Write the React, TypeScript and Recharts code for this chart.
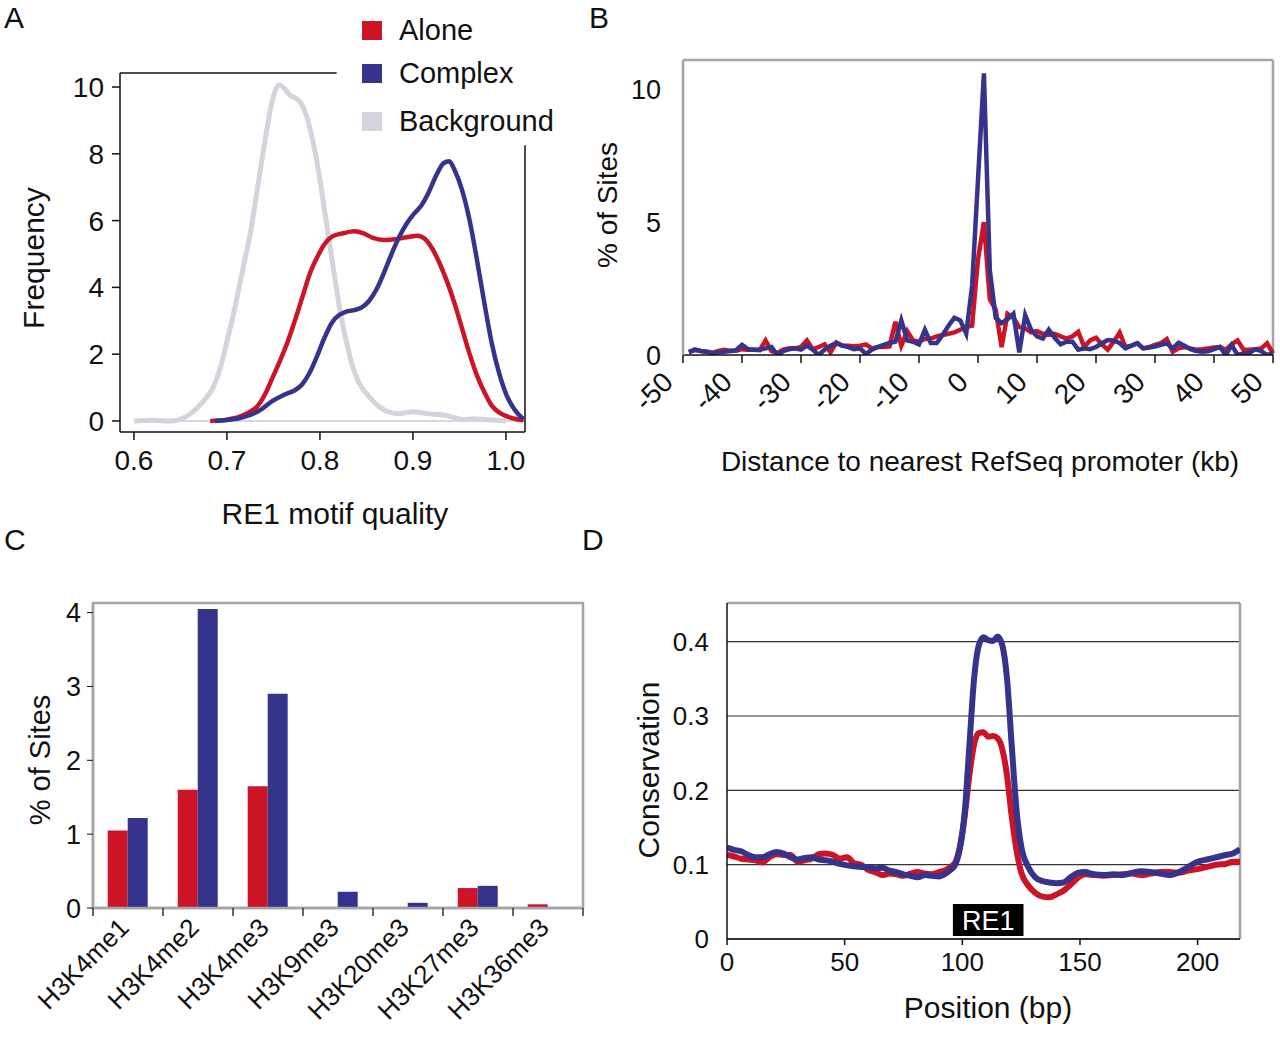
import React from "react";
import {
  Bar,
  BarChart,
  CartesianGrid,
  Label,
  Legend,
  Line,
  LineChart,
  ReferenceArea,
  ReferenceLine,
  XAxis,
  YAxis,
} from "recharts";

const FONT = '"Liberation Sans", Arial, Helvetica, sans-serif';
const NARROW = '"Liberation Sans Narrow", "Liberation Sans", Arial, sans-serif';
const INK = "#111";
const RED = "#cb1426";
const BLUE = "#35338b";
const LIGHT = "#d3d4dc";
const FRAME = "#a3a5a8";

// ---- A: RE1 motif quality densities
const seriesNames = ["Alone", "Complex", "Background"];
const qualityTicks = [0.6, 0.7, 0.8, 0.9, 1.0];
const frequencyTicks = [0, 2, 4, 6, 8, 10];

const bgQuality = [0.6, 0.62, 0.64, 0.65, 0.66, 0.67, 0.677, 0.685, 0.693, 0.701, 0.707, 0.713, 0.719, 0.725, 0.733, 0.741, 0.748, 0.756, 0.762, 0.768, 0.775, 0.781, 0.787, 0.793, 0.799, 0.805, 0.811, 0.817, 0.823, 0.829, 0.835, 0.841, 0.849, 0.857, 0.865, 0.873, 0.885, 0.9, 0.915, 0.933, 0.945, 0.955, 0.965, 0.98, 1.0];
const bgFreq = [0, 0.02, 0.0, 0.05, 0.2, 0.45, 0.67, 1.0, 1.6, 2.5, 3.2, 4.0, 4.8, 5.6, 7.0, 8.4, 9.5, 10.07, 9.95, 9.75, 9.65, 9.45, 9.0, 8.3, 7.4, 6.3, 5.2, 4.1, 3.1, 2.3, 1.65, 1.2, 0.85, 0.6, 0.4, 0.28, 0.22, 0.28, 0.22, 0.18, 0.1, 0.04, 0.07, 0.04, 0.0];

const aloneQuality = [0.682, 0.7, 0.713, 0.725, 0.733, 0.741, 0.749, 0.757, 0.765, 0.773, 0.781, 0.789, 0.797, 0.805, 0.813, 0.825, 0.837, 0.847, 0.857, 0.869, 0.881, 0.893, 0.905, 0.913, 0.921, 0.929, 0.937, 0.945, 0.953, 0.961, 0.969, 0.977, 0.985, 0.993, 1.005, 1.019];
const aloneFreq = [0, 0.04, 0.12, 0.28, 0.45, 0.8, 1.3, 1.8, 2.35, 3.0, 3.7, 4.4, 4.9, 5.3, 5.52, 5.62, 5.68, 5.62, 5.48, 5.42, 5.44, 5.5, 5.55, 5.45, 5.15, 4.7, 4.15, 3.5, 2.75, 2.0, 1.35, 0.85, 0.45, 0.25, 0.1, 0.02];

const complexQuality = [0.687, 0.7, 0.713, 0.725, 0.737, 0.749, 0.761, 0.773, 0.781, 0.789, 0.797, 0.805, 0.813, 0.821, 0.829, 0.837, 0.845, 0.853, 0.861, 0.869, 0.877, 0.885, 0.893, 0.901, 0.909, 0.917, 0.925, 0.933, 0.939, 0.945, 0.953, 0.961, 0.969, 0.977, 0.985, 0.993, 1.001, 1.009, 1.019];
const complexFreq = [0, 0.03, 0.08, 0.18, 0.35, 0.6, 0.78, 0.92, 1.1, 1.45, 1.95, 2.5, 2.95, 3.18, 3.28, 3.32, 3.4, 3.6, 3.95, 4.45, 5.0, 5.5, 5.9, 6.2, 6.45, 6.85, 7.35, 7.72, 7.78, 7.5, 6.9, 6.0, 4.8, 3.5, 2.3, 1.4, 0.75, 0.35, 0.05];

// ---- B: distance to nearest RefSeq promoter (kb)
const distanceTicks = [-50, -40, -30, -20, -10, 0, 10, 20, 30, 40, 50];
const distanceKb = [
  -49, -48, -47, -46, -45, -44, -43, -42, -41, -40,
  -39, -38, -37, -36, -35, -34, -33, -32, -31, -30,
  -29, -28, -27, -26, -25, -24, -23, -22, -21, -20,
  -19, -18, -17, -16, -15, -14, -13, -12, -11, -10,
  -9, -8, -7, -6, -5, -4, -3, -2, -1, 0,
  1, 2, 3, 4, 5, 6, 7, 8, 9, 10,
  11, 12, 13, 14, 15, 16, 17, 18, 19, 20,
  21, 22, 23, 24, 25, 26, 27, 28, 29, 30,
  31, 32, 33, 34, 35, 36, 37, 38, 39, 40,
  41, 42, 43, 44, 45, 46, 47, 48, 49, 50,
];
const aloneByDistance = [
  0.1, 0.2, 0.15, 0.12, 0.08, 0.15, 0.2, 0.15, 0.16, 0.22,
  0.2, 0.2, 0.18, 0.55, 0.15, 0.08, 0.2, 0.25, 0.25, 0.3,
  0.55, 0.22, 0.3, 0.4, 0.1, 0.47, 0.35, 0.35, 0.33, 0.35,
  0.4, 0.25, 0.3, 0.3, 0.32, 1.25, 0.35, 0.9, 0.55, 0.5,
  0.6, 0.62, 0.7, 0.75, 0.8, 0.85, 0.95, 1.05, 1.1, 3.6,
  5.0, 2.1, 1.7, 0.3, 1.55, 1.4, 1.05, 1.0, 0.85, 0.9,
  0.8, 0.75, 0.8, 0.7, 0.62, 0.7, 0.87, 0.3, 0.55, 0.65,
  0.4, 0.2, 0.5, 0.84, 0.3, 0.35, 0.44, 0.25, 0.3, 0.38,
  0.45, 0.6, 0.12, 0.25, 0.3, 0.25, 0.2, 0.22, 0.25, 0.28,
  0.3, 0.2, 0.4, 0.55, 0.2, 0.2, 0.22, 0.25, 0.44, 0.06,
];
const complexByDistance = [
  0.12, 0.2, 0.15, 0.12, 0.08, 0.1, 0.12, 0.15, 0.18, 0.38,
  0.22, 0.2, 0.2, 0.25, 0.3, 0.0, 0.15, 0.22, 0.25, 0.2,
  0.35, 0.2, 0.0, 0.2, 0.35, 0.45, 0.35, 0.3, 0.22, 0.25,
  0.04, 0.2, 0.3, 0.38, 0.45, 0.5, 1.3, 0.55, 0.5, 0.4,
  0.95, 0.45, 0.45, 0.75, 1.1, 1.4, 1.3, 0.8, 2.6, 6.6,
  10.6, 3.2, 1.4, 1.2, 1.35, 1.55, 0.1, 1.5, 0.95, 0.7,
  0.62, 0.95, 0.65, 0.4, 0.5, 0.5, 0.2, 0.25, 0.22, 0.3,
  0.44, 0.56, 0.55, 0.45, 0.25, 0.35, 0.45, 0.25, 0.28, 0.32,
  0.38, 0.44, 0.25, 0.46, 0.35, 0.22, 0.15, 0.12, 0.14, 0.22,
  0.3, 0.0, 0.37, 0.0, 0.06, 0.08, 0.22, 0.15, 0.0, 0.06,
];

// ---- C: histone marks
const histoneMarks = ["H3K4me1", "H3K4me2", "H3K4me3", "H3K9me3", "H3K20me3", "H3K27me3", "H3K36me3"];
const aloneMarkPct = [1.05, 1.6, 1.65, 0, 0, 0.27, 0.05];
const complexMarkPct = [1.22, 4.05, 2.9, 0.22, 0.07, 0.3, 0];

// ---- D: conservation around the RE1
const positionTicks = [0, 50, 100, 150, 200];
const conservationTicks = [0, 0.1, 0.2, 0.3, 0.4];
const positionBp = [0, 3, 6, 9, 12, 15, 18, 21, 24, 27, 30, 33, 36, 39, 42, 45, 48, 51, 54, 57, 60, 63, 66, 69, 72, 75, 78, 81, 84, 87, 90, 93, 95, 97, 99, 101, 103, 105, 107, 109, 111, 113, 115, 117, 119, 121, 123, 125, 128, 131, 134, 137, 140, 143, 146, 149, 152, 156, 160, 164, 168, 172, 176, 180, 184, 188, 192, 196, 200, 204, 208, 212, 215, 218];
const aloneConservation = [0.113, 0.111, 0.108, 0.107, 0.106, 0.103, 0.11, 0.114, 0.113, 0.113, 0.104, 0.106, 0.108, 0.114, 0.115, 0.113, 0.108, 0.11, 0.102, 0.1, 0.093, 0.09, 0.086, 0.088, 0.087, 0.085, 0.088, 0.09, 0.088, 0.087, 0.09, 0.093, 0.097, 0.103, 0.125, 0.165, 0.22, 0.262, 0.277, 0.278, 0.272, 0.273, 0.27, 0.255, 0.22, 0.165, 0.12, 0.09, 0.072, 0.062, 0.057, 0.056, 0.06, 0.065, 0.073, 0.082, 0.087, 0.086, 0.085, 0.086, 0.087, 0.088, 0.086, 0.088, 0.09, 0.09, 0.089, 0.092, 0.094, 0.097, 0.1, 0.101, 0.104, 0.104];
const complexConservation = [0.123, 0.12, 0.118, 0.113, 0.11, 0.11, 0.114, 0.117, 0.115, 0.11, 0.107, 0.109, 0.11, 0.107, 0.106, 0.104, 0.101, 0.099, 0.098, 0.097, 0.097, 0.095, 0.096, 0.092, 0.09, 0.087, 0.085, 0.083, 0.086, 0.085, 0.084, 0.088, 0.093, 0.1, 0.122, 0.17, 0.26, 0.35, 0.395, 0.406, 0.402, 0.401, 0.407, 0.395, 0.35, 0.26, 0.175, 0.125, 0.097, 0.083, 0.078, 0.076, 0.075, 0.076, 0.083, 0.089, 0.09, 0.087, 0.086, 0.087, 0.086, 0.089, 0.091, 0.09, 0.088, 0.086, 0.09, 0.097, 0.104, 0.107, 0.11, 0.113, 0.115, 0.121];

const pairs = (xs: number[], ys: number[]) => xs.map((x, i) => ({ x, y: ys[i] }));

const tickFont = (size: number, family = FONT) => ({ fontSize: size, fill: INK, fontFamily: family });

function Title({ x, y, text, size = 30, rotate = false }: { x: number; y: number; text: string; size?: number; rotate?: boolean }) {
  return (
    <text
      x={x}
      y={y}
      transform={rotate ? `rotate(-90 ${x} ${y})` : undefined}
      textAnchor="middle"
      dominantBaseline="central"
      fontFamily={FONT}
      fontSize={size}
      fill={INK}
    >
      {text}
    </text>
  );
}

function SlantTick(props: any) {
  const { x, y, payload, dx = 0, dy = 0, size = 26 } = props;
  return (
    <g transform={`translate(${x + dx},${y + dy}) rotate(-45)`}>
      <text textAnchor="end" dominantBaseline="central" fontFamily={FONT} fontSize={size} fill={INK}>
        {payload.value}
      </text>
    </g>
  );
}

// category label plus the tick marks on the band edges, like the original plot
function MarkTick(props: any) {
  const { x, y, payload, width, visibleTicksCount, index } = props;
  const band = typeof width === "number" && visibleTicksCount ? width / visibleTicksCount : 70;
  const left = x - band / 2;
  const right = x + band / 2;
  return (
    <g>
      <line x1={left} x2={left} y1={y} y2={y + 8} stroke="#333" strokeWidth={1.5} />
      {index === visibleTicksCount - 1 && <line x1={right} x2={right} y1={y} y2={y + 8} stroke="#333" strokeWidth={1.5} />}
      <g transform={`translate(${x - 4},${y + 15}) rotate(-45)`}>
        <text textAnchor="end" dominantBaseline="central" fontFamily={FONT} fontSize={26} fill={INK}>
          {payload.value}
        </text>
      </g>
    </g>
  );
}

function PanelLetter({ x, y, letter }: { x: number; y: number; letter: string }) {
  return (
    <div style={{ position: "absolute", left: x, top: y, fontFamily: FONT, fontSize: 30, lineHeight: "30px", color: INK }}>
      {letter}
    </div>
  );
}

const legendColors = [RED, BLUE, LIGHT];
const legendRowTops = [0, 43, 91];

function MotifLegend() {
  return (
    <div style={{ position: "relative", width: 220, height: 130, fontFamily: FONT, fontSize: 29, color: INK }}>
      {seriesNames.map((name, i) => (
        <div key={name} style={{ position: "absolute", left: 0, top: legendRowTops[i], height: 32, display: "flex", alignItems: "center" }}>
          <span style={{ display: "inline-block", width: 20, height: 19, background: legendColors[i], marginRight: 17 }} />
          <span>{name}</span>
        </div>
      ))}
    </div>
  );
}

const A_X: [number, number] = [0.585, 1.0205];
const A_Y: [number, number] = [-0.33, 10.42];

function MotifQualityPanel() {
  return (
    <LineChart width={580} height={540} margin={{ top: 73, right: 55, bottom: 0, left: 0 }}>
      <XAxis
        type="number"
        dataKey="x"
        domain={A_X}
        allowDataOverflow
        ticks={qualityTicks}
        interval={0}
        tickFormatter={(v: number) => v.toFixed(1)}
        height={108}
        stroke={INK}
        strokeWidth={1.5}
        tickSize={8}
        tickMargin={10}
        tick={tickFont(28)}
        label={() => <Title x={335} y={513} text="RE1 motif quality" />}
      />
      <YAxis
        type="number"
        domain={A_Y}
        allowDataOverflow
        ticks={frequencyTicks}
        interval={0}
        width={120}
        stroke={INK}
        strokeWidth={1.5}
        tickSize={8}
        tickMargin={8}
        tick={tickFont(28)}
        label={() => <Title x={33} y={258} text="Frequency" rotate />}
      />
      <ReferenceLine segment={[{ x: 0.6, y: 0 }, { x: A_X[1], y: 0 }]} stroke="#c6c8d6" strokeWidth={1.5} ifOverflow="visible" />
      <ReferenceLine segment={[{ x: A_X[0], y: A_Y[1] }, { x: 0.818, y: A_Y[1] }]} stroke={INK} strokeWidth={1.5} ifOverflow="visible" />
      <ReferenceLine segment={[{ x: A_X[1], y: 8.26 }, { x: A_X[1], y: A_Y[0] }]} stroke={INK} strokeWidth={1.5} ifOverflow="visible" />
      <Line data={pairs(bgQuality, bgFreq)} dataKey="y" name="Background" type="monotone" stroke={LIGHT} strokeWidth={5} dot={false} isAnimationActive={false} />
      <Line data={pairs(aloneQuality, aloneFreq)} dataKey="y" name="Alone" type="monotone" stroke={RED} strokeWidth={4.5} dot={false} isAnimationActive={false} />
      <Line data={pairs(complexQuality, complexFreq)} dataKey="y" name="Complex" type="monotone" stroke={BLUE} strokeWidth={4.5} dot={false} isAnimationActive={false} />
      <Legend
        layout="vertical"
        align="center"
        verticalAlign="middle"
        wrapperStyle={{ left: 362, top: 14, width: 220, height: 130 }}
        content={() => <MotifLegend />}
      />
    </LineChart>
  );
}

function PromoterDistancePanel() {
  const rows = distanceKb.map((kb, i) => ({ kb, alone: aloneByDistance[i], complex: complexByDistance[i] }));
  return (
    <LineChart width={700} height={500} data={rows} margin={{ top: 60, right: 7, bottom: 0, left: 0 }}>
      <XAxis
        type="number"
        dataKey="kb"
        domain={[-50, 50]}
        ticks={distanceTicks}
        interval={0}
        height={145}
        stroke={INK}
        strokeWidth={1.5}
        tickSize={8}
        tick={<SlantTick dx={-15} dy={12} size={28} />}
        label={() => <Title x={400} y={461} text="Distance to nearest RefSeq promoter (kb)" size={28} />}
      />
      <YAxis
        type="number"
        domain={[0, 11.1]}
        allowDataOverflow
        ticks={[0, 5, 10]}
        interval={0}
        width={103}
        axisLine={{ stroke: FRAME, strokeWidth: 2.5 }}
        tickLine={false}
        tickSize={0}
        tickMargin={22}
        tick={tickFont(27)}
        label={() => <Title x={27} y={205} text="% of Sites" size={28} rotate />}
      />
      <ReferenceLine y={11.1} stroke={FRAME} strokeWidth={2.5} />
      <ReferenceLine x={50} stroke={FRAME} strokeWidth={2.5} />
      <Line dataKey="alone" type="linear" stroke={RED} strokeWidth={4.5} dot={false} isAnimationActive={false} />
      <Line dataKey="complex" type="linear" stroke={BLUE} strokeWidth={4.5} dot={false} isAnimationActive={false} />
    </LineChart>
  );
}

function HistoneMarkPanel() {
  const rows = histoneMarks.map((mark, i) => ({ mark, alone: aloneMarkPct[i], complex: complexMarkPct[i] }));
  return (
    <BarChart width={600} height={509} data={rows} margin={{ top: 63, right: 17, bottom: 0, left: 0 }} barGap={0} barCategoryGap="21%">
      <XAxis
        dataKey="mark"
        interval={0}
        height={141}
        axisLine={{ stroke: FRAME, strokeWidth: 2.5 }}
        tickLine={false}
        tickSize={0}
        tickMargin={0}
        tick={<MarkTick />}
      />
      <YAxis
        type="number"
        domain={[0, 4.13]}
        allowDataOverflow
        ticks={[0, 1, 2, 3, 4]}
        interval={0}
        width={93}
        axisLine={{ stroke: FRAME, strokeWidth: 2.5 }}
        tickLine={{ stroke: INK }}
        tickSize={6}
        tickMargin={6}
        tick={tickFont(27)}
        label={() => <Title x={40} y={220} text="% of Sites" size={29} rotate />}
      />
      <ReferenceArea y1={0} y2={4.13} fill="none" fillOpacity={0} stroke={FRAME} strokeWidth={2.5} ifOverflow="visible" />
      <Bar dataKey="alone" fill={RED} isAnimationActive={false} />
      <Bar dataKey="complex" fill={BLUE} isAnimationActive={false} />
    </BarChart>
  );
}

function ConservationPanel() {
  return (
    <LineChart width={680} height={509} margin={{ top: 63, right: 40, bottom: 0, left: 0 }}>
      <CartesianGrid vertical={false} stroke="#333" strokeWidth={1.2} />
      <XAxis
        type="number"
        dataKey="x"
        domain={[0, 218]}
        allowDataOverflow
        ticks={positionTicks}
        interval={0}
        height={110}
        stroke={INK}
        strokeWidth={1.5}
        tickSize={6}
        tickMargin={8}
        tick={tickFont(26, NARROW)}
        label={() => <Title x={388} y={467} text="Position (bp)" />}
      />
      <YAxis
        type="number"
        domain={[0, 0.452]}
        allowDataOverflow
        ticks={conservationTicks}
        interval={0}
        tickFormatter={(v: number) => (v === 0 ? "0" : v.toFixed(1))}
        width={127}
        stroke={INK}
        strokeWidth={1.5}
        tickLine={false}
        tickSize={0}
        tickMargin={18}
        tick={tickFont(26, NARROW)}
        label={() => <Title x={48} y={230} text="Conservation" rotate />}
      />
      <ReferenceLine y={0.452} stroke={FRAME} strokeWidth={2.5} />
      <ReferenceLine x={218} stroke={FRAME} strokeWidth={2.5} />
      <ReferenceArea x1={96} x2={126} y1={0.004} y2={0.047} fill="#000" fillOpacity={1} stroke="none" ifOverflow="visible">
        <Label value="RE1" position="center" fill="#fff" fontSize={27} fontFamily={NARROW} />
      </ReferenceArea>
      <Line data={pairs(positionBp, aloneConservation)} dataKey="y" type="monotone" stroke={RED} strokeWidth={6} dot={false} isAnimationActive={false} />
      <Line data={pairs(positionBp, complexConservation)} dataKey="y" type="monotone" stroke={BLUE} strokeWidth={6} dot={false} isAnimationActive={false} />
    </LineChart>
  );
}

export default function App() {
  return (
    <div style={{ position: "absolute", left: 0, top: 0, width: 1280, height: 1049, background: "#fff", overflow: "hidden" }}>
      <div style={{ position: "absolute", left: 0, top: 0 }}>
        <MotifQualityPanel />
      </div>
      <div style={{ position: "absolute", left: 580, top: 0 }}>
        <PromoterDistancePanel />
      </div>
      <div style={{ position: "absolute", left: 0, top: 540 }}>
        <HistoneMarkPanel />
      </div>
      <div style={{ position: "absolute", left: 600, top: 540 }}>
        <ConservationPanel />
      </div>
      <PanelLetter x={4} y={3} letter="A" />
      <PanelLetter x={589} y={3} letter="B" />
      <PanelLetter x={4} y={525} letter="C" />
      <PanelLetter x={582} y={525} letter="D" />
    </div>
  );
}
